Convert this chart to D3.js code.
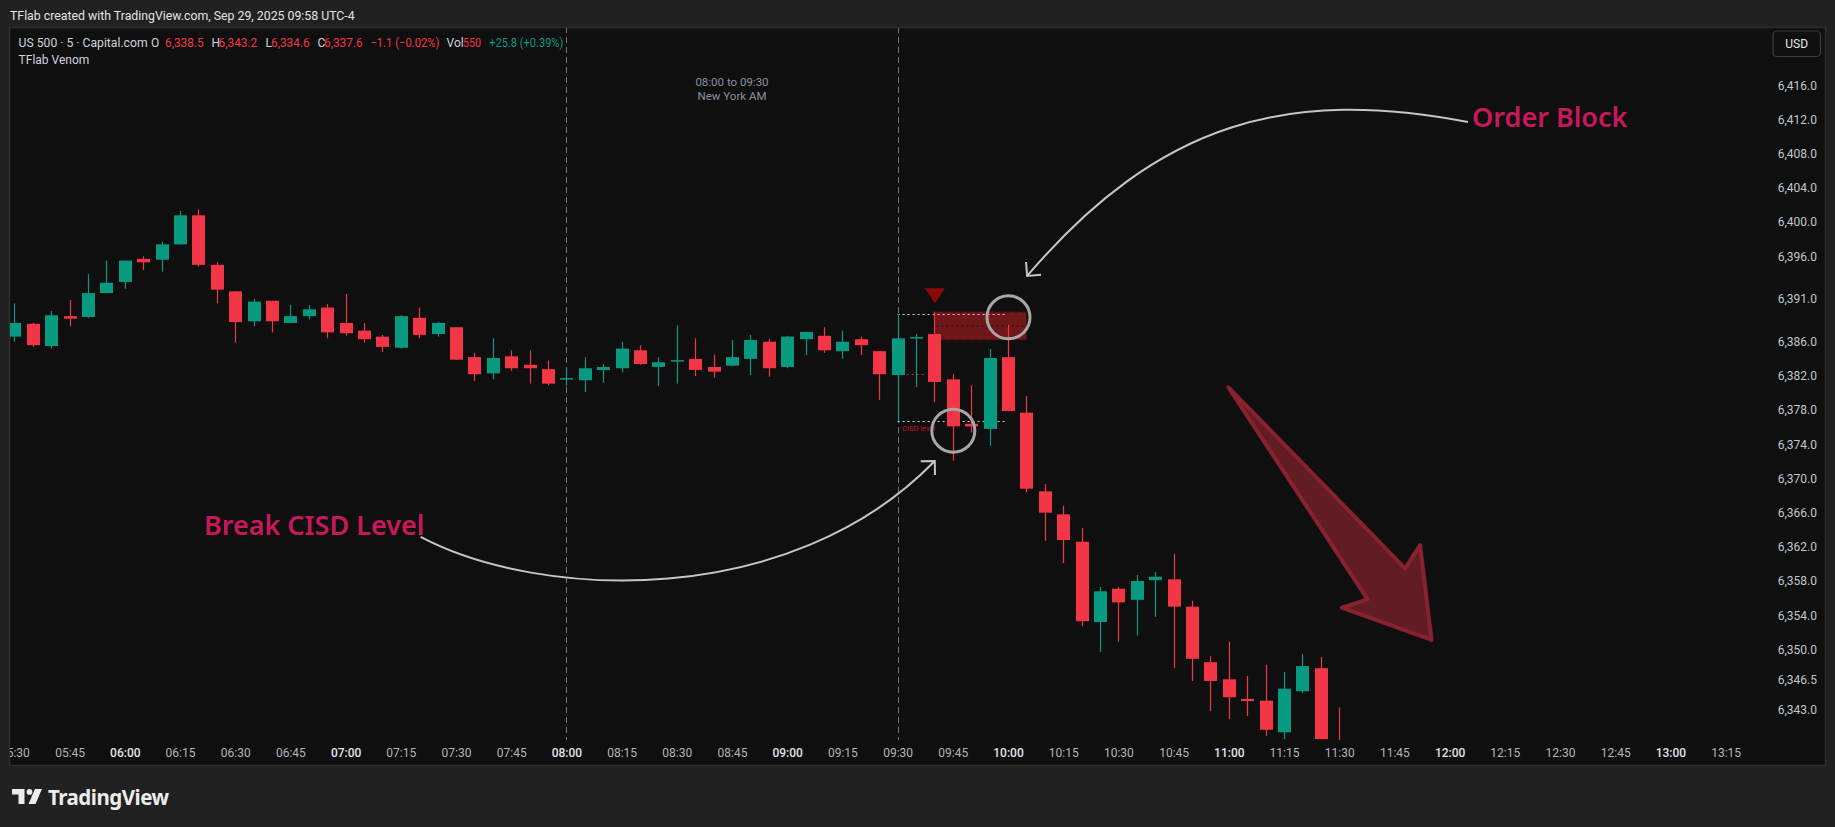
<!DOCTYPE html>
<html><head><meta charset="utf-8">
<script src="https://cdn.jsdelivr.net/npm/d3@7"></script>
<style>html,body{margin:0;padding:0;background:#212121;overflow:hidden}</style>
</head><body>
<script>
// ---------- DATA ----------
const times = ["05:30","05:35","05:40","05:45","05:50","05:55","06:00","06:05","06:10","06:15","06:20","06:25","06:30","06:35","06:40","06:45","06:50","06:55","07:00","07:05","07:10","07:15","07:20","07:25","07:30","07:35","07:40","07:45","07:50","07:55","08:00","08:05","08:10","08:15","08:20","08:25","08:30","08:35","08:40","08:45","08:50","08:55","09:00","09:05","09:10","09:15","09:20","09:25","09:30","09:35","09:40","09:45","09:50","09:55","10:00","10:05","10:10","10:15","10:20","10:25","10:30","10:35","10:40","10:45","10:50","10:55","11:00","11:05","11:10","11:15","11:20","11:25","11:30"];
const open  = [6386.6,6388.1,6385.5,6389.0,6388.9,6391.7,6393.0,6395.7,6395.6,6397.4,6400.8,6395.0,6391.9,6388.4,6390.8,6388.2,6389.0,6390.0,6388.2,6387.3,6386.6,6385.3,6388.8,6386.9,6387.7,6384.2,6382.3,6384.3,6383.3,6382.8,6381.7,6381.5,6382.7,6382.9,6385.0,6383.05,6383.8,6384.0,6383.05,6383.2,6384.0,6386.0,6383.05,6386.3,6386.7,6384.9,6386.3,6384.9,6382.1,6386.5,6386.9,6381.6,6376.4,6375.8,6384.2,6377.7,6368.5,6365.8,6362.6,6353.2,6357.1,6355.8,6358.1,6358.2,6355.0,6348.5,6346.5,6344.2,6344.0,6340.3,6345.1,6347.8,6338.5];
const high  = [6390.5,6388.2,6389.6,6390.9,6393.9,6395.5,6395.5,6396.0,6397.7,6401.3,6401.5,6395.3,6391.9,6391.0,6390.8,6390.3,6390.3,6390.4,6391.6,6388.2,6386.8,6389.1,6390.0,6388.3,6387.7,6384.7,6386.4,6385.0,6385.0,6383.8,6383.0,6384.2,6383.4,6386.0,6385.6,6384.2,6387.9,6386.4,6384.5,6386.2,6386.8,6386.3,6386.7,6387.15,6387.7,6387.3,6386.6,6384.9,6389.25,6386.9,6389.5,6382.2,6380.9,6385.15,6388.0,6379.65,6369.35,6366.8,6364.2,6357.3,6357.3,6358.7,6359.05,6361.2,6355.7,6349.2,6350.9,6346.9,6348.2,6347.35,6349.45,6349.1,6343.2];
const low   = [6386.0,6385.4,6385.2,6387.8,6388.8,6391.7,6392.2,6394.4,6394.2,6397.4,6394.8,6390.5,6385.9,6387.8,6387.1,6388.2,6388.6,6386.4,6386.7,6385.9,6384.8,6385.2,6386.4,6386.6,6383.9,6381.4,6381.6,6382.6,6381.1,6380.9,6380.8,6380.1,6381.2,6382.4,6383.3,6380.8,6381.1,6382.0,6381.8,6383.2,6382.1,6381.9,6382.9,6384.45,6384.7,6384.0,6384.45,6379.2,6376.7,6380.7,6378.9,6372.1,6375.4,6373.8,6377.9,6368.4,6362.7,6360.1,6352.7,6349.7,6350.9,6351.6,6353.8,6347.8,6346.3,6342.8,6341.85,6342.2,6339.9,6339.5,6344.9,6339.5,6334.6];
const close = [6388.2,6385.6,6389.1,6388.7,6391.7,6392.9,6395.5,6395.3,6397.4,6400.8,6395.0,6392.1,6388.3,6390.7,6388.4,6389.0,6389.8,6387.1,6387.0,6386.3,6385.4,6389.0,6386.8,6388.2,6383.9,6382.2,6384.1,6382.9,6382.9,6381.1,6381.75,6382.9,6383.05,6385.2,6383.4,6383.6,6383.85,6382.7,6382.5,6384.2,6386.2,6382.9,6386.6,6387.15,6385.0,6386.0,6385.6,6382.2,6386.4,6386.55,6381.3,6376.1,6376.1,6384.1,6377.9,6368.8,6366.0,6362.8,6353.3,6356.8,6355.5,6358.0,6358.5,6355.0,6348.9,6346.3,6344.4,6343.95,6340.6,6345.4,6348.05,6339.5,6337.6];

const priceTicks = [6416,6412,6408,6404,6400,6396,6391,6386,6382,6378,6374,6370,6366,6362,6358,6354,6350,6346.5,6343];
const timeTicks = ["05:30","05:45","06:00","06:15","06:30","06:45","07:00","07:15","07:30","07:45","08:00","08:15","08:30","08:45","09:00","09:15","09:30","09:45","10:00","10:15","10:30","10:45","11:00","11:15","11:30","11:45","12:00","12:15","12:30","12:45","13:00","13:15"];

const sessionBounds = ["08:00","09:30"];
const sessionLabel = ["08:00 to 09:30","New York AM"];
const headerText = "TFlab created with TradingView.com, Sep 29, 2025 09:58 UTC-4";
const legendParts = [
  {t:"US 500 · 5 · Capital.com", c:"lab"},
  {t:"O", c:"lab"},{t:"6,338.5", c:"dn"},
  {t:"H", c:"lab"},{t:"6,343.2", c:"dn"},
  {t:"L", c:"lab"},{t:"6,334.6", c:"dn"},
  {t:"C", c:"lab"},{t:"6,337.6", c:"dn"},
  {t:"−1.1 (−0.02%)", c:"dn"},
  {t:"Vol", c:"lab"},{t:"550", c:"dn"},
  {t:"+25.8 (+0.39%)", c:"up"}
];
const indicatorName = "TFlab Venom";

// Annotations in (time minutes, price) units
const orderBlock = {t0:"09:40", t1:"10:05", top:6389.5, bottom:6386.2, mid:6387.85};
const cisdLevels = {t0:"09:30", t1End:599.7, high:6389.25, low:6376.7};
const cisdRedLine = {m0:572.5, m1:578, price:6382.2};
const cisdLabel = {text:"CISD level", m:571.2, price:6375.55};
const signalTriangle = {t:"09:40", top:6392.25, bottom:6390.5};
const circles = [{t:"10:00", price:6388.86},{t:"09:45", price:6375.59}];
const obArrow = [[725,6411.72],[676.6,6415.7],[641.3,6411.95],[605.2,6393.7]];
const cisdArrow = [[440.4,6363.16],[472.8,6355.78],[540.8,6354.6],[580.1,6372.04]];
const bigArrow = [[659.9,6380.67],[707.9,6359.49],[712,6362.21],[715.1,6351.1],[690.7,6354.88],[697.7,6355.86]];
const labels = [{text:"Order Block", m:726.1, price:6411.15},{text:"Break CISD Level", m:381.5, price:6363.4}];

// ---------- LAYOUT ----------
const W = 1835, H = 827;
const panel = {x:9, y:27, w:1817, h:739};
const pane = {x:9, y:27, r:1760, b:740};
const toMin = s => { const [h,m] = s.split(":").map(Number); return h*60+m; };

const x = d3.scaleLinear().domain([toMin("05:30"), toMin("13:15")]).range([14.4, 1725.6]);
const y = d3.scaleLinear().domain([6343, 6416]).range([709.2, 85.4]);

const UP = "#089981", DN = "#f23645";
const FONT = "Roboto, 'Noto Sans', sans-serif";

const svg = d3.select("body").append("svg").attr("width", W).attr("height", H)
  .style("display","block").attr("font-family", FONT);

svg.append("rect").attr("width", W).attr("height", H).attr("fill", "#212121");
svg.append("text").attr("x", 10).attr("y", 19.5).attr("fill", "#e4e4e4")
  .attr("font-size", 12.3).text(headerText);

svg.append("rect").attr("x", panel.x+0.5).attr("y", panel.y+0.5).attr("width", panel.w-1).attr("height", panel.h-1)
  .attr("fill", "#0f0f0f").attr("stroke", "#2f2f2f").attr("stroke-width", 1.5);

const defs = svg.append("defs");
defs.append("clipPath").attr("id","paneClip").append("rect")
  .attr("x", pane.x+1).attr("y", pane.y+1).attr("width", pane.r-pane.x-1).attr("height", pane.b-pane.y-1);
defs.append("clipPath").attr("id","panelClip").append("rect")
  .attr("x", panel.x+1).attr("y", panel.y+1).attr("width", panel.w-2).attr("height", panel.h-2);

const g = svg.append("g").attr("clip-path","url(#paneClip)");

// session lines
sessionBounds.forEach(s => {
  const xx = Math.round(x(toMin(s))) + 0.5;
  g.append("line").attr("x1", xx).attr("x2", xx).attr("y1", pane.y).attr("y2", pane.b)
    .attr("stroke", "#6f7689").attr("stroke-width", 1).attr("stroke-dasharray", "6,4");
});
const sessCx = (x(toMin(sessionBounds[0])) + x(toMin(sessionBounds[1]))) / 2;
sessionLabel.forEach((t,i) => {
  g.append("text").attr("x", sessCx).attr("y", 85.5 + i*14).attr("text-anchor","middle")
    .attr("fill", "#8a91a5").attr("font-size", 11.5).text(t);
});

// order block zone
const obx0 = x(toMin(orderBlock.t0)), obx1 = x(toMin(orderBlock.t1));
g.append("rect").attr("x", obx0).attr("y", y(orderBlock.top)).attr("width", obx1-obx0)
  .attr("height", y(orderBlock.bottom)-y(orderBlock.top)).attr("fill", "#701719");
[orderBlock.top, orderBlock.bottom].forEach(p => {
  g.append("line").attr("x1", obx0).attr("x2", obx1).attr("y1", y(p)).attr("y2", y(p))
    .attr("stroke", "#3a0c0c").attr("stroke-width", 1.5).attr("stroke-dasharray","5,3");
});
g.append("line").attr("x1", obx0+2).attr("x2", obx1).attr("y1", y(orderBlock.mid)).attr("y2", y(orderBlock.mid))
  .attr("stroke", "#111").attr("stroke-width", 1).attr("stroke-dasharray","2,3");

// CISD dotted lines
const cx0 = x(toMin(cisdLevels.t0)), cx1 = x(cisdLevels.t1End);
[cisdLevels.high, cisdLevels.low].forEach(p => {
  g.append("line").attr("x1", cx0).attr("x2", cx1).attr("y1", Math.round(y(p))+0.5).attr("y2", Math.round(y(p))+0.5)
    .attr("stroke", "#c9d0e6").attr("stroke-width", 1).attr("stroke-dasharray","2,3");
});
g.append("line").attr("x1", x(cisdRedLine.m0)).attr("x2", x(cisdRedLine.m1))
  .attr("y1", Math.round(y(cisdRedLine.price))+0.5).attr("y2", Math.round(y(cisdRedLine.price))+0.5)
  .attr("stroke", "#d0202a").attr("stroke-width", 1).attr("stroke-dasharray","2,3");
g.append("text").attr("x", x(cisdLabel.m)).attr("y", y(cisdLabel.price)).attr("fill", "#c8101a")
  .attr("font-size", 7.5).text(cisdLabel.text);

// candles
const data = times.map((t,i) => ({m: toMin(t), o: open[i], h: high[i], l: low[i], c: close[i]}));
const bw = 13;
const cg = g.append("g");
data.forEach(d => {
  const col = d.c >= d.o ? UP : DN;
  const cx = Math.round(x(d.m));
  cg.append("line").attr("x1", cx+0.5).attr("x2", cx+0.5).attr("y1", y(d.h)).attr("y2", y(d.l))
    .attr("stroke", col).attr("stroke-width", 1.2);
  const top = y(Math.max(d.o,d.c)), bot = y(Math.min(d.o,d.c));
  cg.append("rect").attr("x", cx+0.5-bw/2).attr("y", top).attr("width", bw).attr("height", Math.max(1.5, bot-top))
    .attr("fill", col);
});

// triangle signal
const tx = x(toMin(signalTriangle.t)) + 0.5;
const tTop = y(signalTriangle.top), tBot = y(signalTriangle.bottom);
g.append("path").attr("d", `M${tx-10},${tTop} L${tx+10},${tTop} L${tx},${tBot} Z`).attr("fill", "#8a0a0a");

// circles
circles.forEach(c => {
  g.append("circle").attr("cx", x(toMin(c.t))+0.5).attr("cy", y(c.price)).attr("r", 21.5)
    .attr("fill","none").attr("stroke","#a7a7a7").attr("stroke-width", 3);
});

// big arrow
g.append("path").attr("d", d3.line().x(p=>x(p[0])).y(p=>y(p[1])).curve(d3.curveLinearClosed)(bigArrow))
  .attr("fill", "#621c23").attr("stroke", "#8c2330").attr("stroke-width", 4).attr("stroke-linejoin","round")
  .attr("stroke-opacity", 0.95);

// curved arrows
function curvedArrow(pts){
  const P = pts.map(p => [x(p[0]), y(p[1])]);
  const path = d3.path();
  path.moveTo(P[0][0], P[0][1]);
  path.bezierCurveTo(P[1][0],P[1][1],P[2][0],P[2][1],P[3][0],P[3][1]);
  g.append("path").attr("d", path.toString()).attr("fill","none").attr("stroke","#c6c6c6").attr("stroke-width",2);
  const ang = Math.atan2(P[2][1]-P[3][1], P[2][0]-P[3][0]);
  const L = 14;
  const a1 = ang + Math.PI/4, a2 = ang - Math.PI/4;
  const tip = P[3];
  g.append("path").attr("d", `M${tip[0]+L*Math.cos(a1)},${tip[1]+L*Math.sin(a1)} L${tip[0]},${tip[1]} L${tip[0]+L*Math.cos(a2)},${tip[1]+L*Math.sin(a2)}`)
    .attr("fill","none").attr("stroke","#c6c6c6").attr("stroke-width",2);
}
curvedArrow(obArrow);
curvedArrow(cisdArrow);

labels.forEach(l => {
  g.append("text").attr("x", x(l.m)).attr("y", y(l.price)).attr("fill", "#c8185c")
    .attr("font-family", "'Noto Sans', 'Open Sans', sans-serif").attr("font-weight", 600)
    .attr("font-size", 27).text(l.text);
});

// price axis
const yAxis = d3.axisLeft(y).tickValues(priceTicks).tickSize(0).tickPadding(0).tickFormat(d3.format(",.1f"));
const ya = svg.append("g").attr("transform", "translate(1817,0)").call(yAxis);
ya.select(".domain").remove();
ya.selectAll("text").attr("fill", "#c3c6ce").attr("font-size", 12).attr("font-family", FONT);

// time axis
const xAxis = d3.axisBottom(x).tickValues(timeTicks.map(toMin)).tickSize(0).tickPadding(8)
  .tickFormat(m => timeTicks.find(t => toMin(t) === m));
const xa = svg.append("g").attr("clip-path","url(#panelClip)").append("g")
  .attr("transform", `translate(0,${pane.b})`).call(xAxis);
xa.select(".domain").remove();
xa.selectAll("text").attr("font-size", 12).attr("font-family", FONT)
  .attr("fill", m => (m % 60 === 0) ? "#e0e3eb" : "#b2b5be")
  .attr("font-weight", m => (m % 60 === 0) ? 500 : 400);

// legend
const legX = [18.6,151,165,211.5,218.6,265.6,271,317.4,324,370.4,446.6,463,489.3];
const legW = [129,null,38.6,null,38.6,null,38.6,null,38.6,69,null,18,74];
const legColors = {lab:"#d1d4dc", dn:DN, up:UP};
const leg = svg.append("text").attr("y", 46.5).attr("font-size", 12);
legendParts.forEach((p,i) => {
  const ts = leg.append("tspan").attr("x", legX[i]).attr("fill", legColors[p.c]).text(p.t);
  if (legW[i]) ts.attr("textLength", legW[i]).attr("lengthAdjust", "spacingAndGlyphs");
});
svg.append("text").attr("x", 18.6).attr("y", 63.5).attr("font-size", 12).attr("fill","#d1d4dc").text(indicatorName);

// USD box
svg.append("rect").attr("x", 1773).attr("y", 31).attr("width", 47.5).attr("height", 25.5).attr("rx", 4)
  .attr("fill", "#0f0f0f").attr("stroke", "#3c3c3c").attr("stroke-width", 1.2);
svg.append("text").attr("x", 1796.7).attr("y", 48).attr("text-anchor","middle").attr("fill","#e6e6e6")
  .attr("font-size", 12).text("USD");

// TradingView logo
const lg = svg.append("g").attr("transform","translate(12,789)").attr("fill","#ececec");
lg.append("path").attr("d","M0,0 H12.5 V15 H6.5 V5.5 H0 Z");
lg.append("circle").attr("cx", 17.5).attr("cy", 2.9).attr("r", 2.9);
lg.append("path").attr("d","M23,0 H30 L23.5,15 H16.5 Z");
svg.append("text").attr("x", 48).attr("y", 804.5).attr("fill","#ececec").attr("font-size", 20.5)
  .attr("font-weight", 700).attr("font-family", "'Noto Sans', 'Open Sans', sans-serif")
  .attr("letter-spacing", -0.5).text("TradingView");
</script>
</body></html>
